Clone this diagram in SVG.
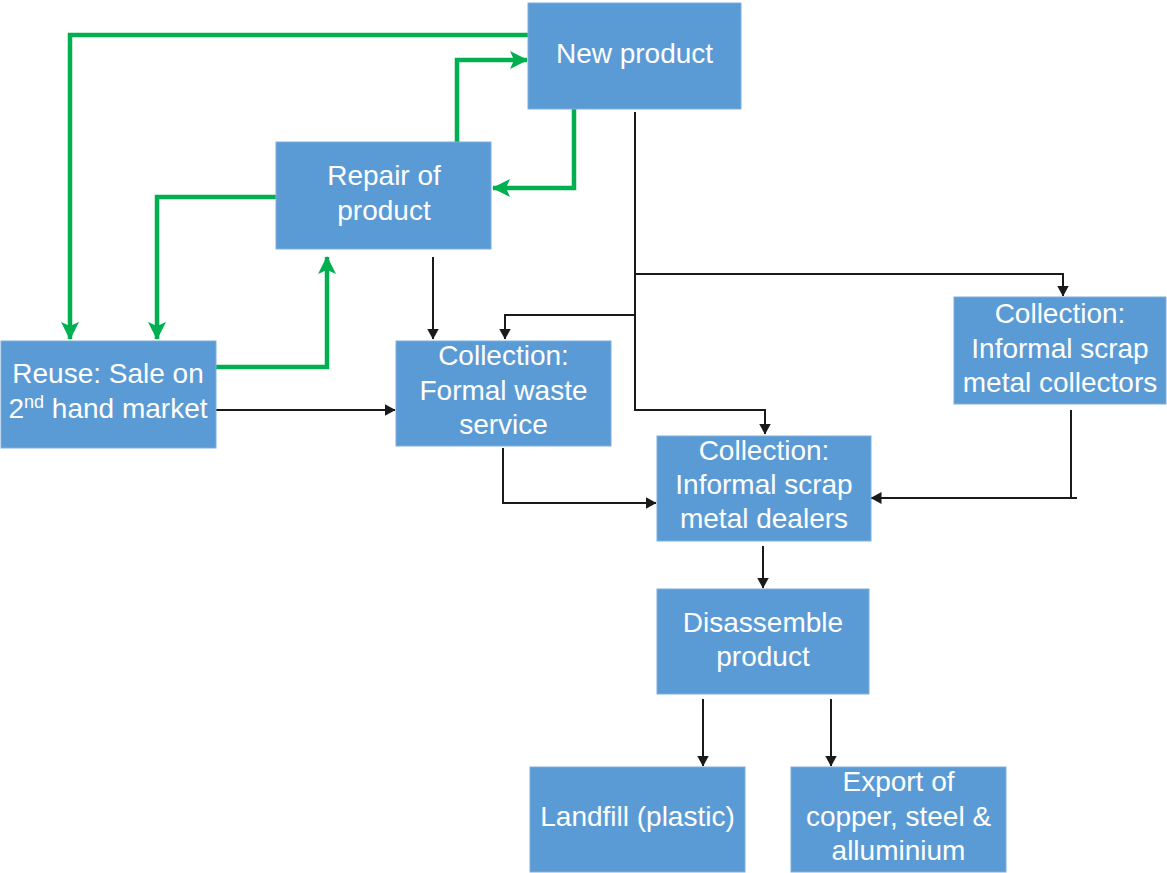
<svg xmlns="http://www.w3.org/2000/svg" width="1167" height="873" viewBox="0 0 1167 873">
<style>
.box{fill:#5B9BD5;stroke:#7EAEDD;stroke-width:1}
.t{font-family:"Liberation Sans",Arial,sans-serif;font-size:28px;fill:#FFFFFF;text-anchor:middle}
.g{fill:none;stroke:#00B050;stroke-width:4.5;stroke-linejoin:miter;marker-end:url(#ga)}
.k{fill:none;stroke:#1A1A1A;stroke-width:2;marker-end:url(#ka)}
.kn{fill:none;stroke:#1A1A1A;stroke-width:2}
</style>
<defs>
<marker id="ga" markerUnits="userSpaceOnUse" markerWidth="18" markerHeight="18" viewBox="0 0 18 18" refX="17" refY="9" orient="auto">
<path d="M0,0 L18,9 L0,18 L4,9 Z" fill="#00B050"/>
</marker>
<marker id="ka" markerUnits="userSpaceOnUse" markerWidth="11" markerHeight="12" viewBox="0 0 11 12" refX="10.5" refY="6" orient="auto">
<path d="M0,0 L11,6 L0,12 Z" fill="#1A1A1A"/>
</marker>
</defs>
<rect width="1167" height="873" fill="#FFFFFF"/>
<g id="connectors">
<path class="g" d="M528,35 H70 V339"/>
<path class="g" d="M276,197 H157 V339"/>
<path class="g" d="M457,142 V60 H527"/>
<path class="g" d="M574,109 V188 H493"/>
<path class="g" d="M216,367 H327 V257"/>
<path class="k" d="M433,257 V339"/>
<path class="k" d="M635,112 V410 H765 V434"/>
<path class="k" d="M635,274 H1063 V296"/>
<path class="k" d="M635,315 H505 V339"/>
<path class="k" d="M216,410 H395"/>
<path class="k" d="M503,448 V503 H656"/>
<path class="kn" d="M1071,410 V498"/>
<path class="k" d="M1077,498 H871"/>
<path class="k" d="M763,546 V588"/>
<path class="k" d="M703,699 V766"/>
<path class="k" d="M831,699 V766"/>
</g>
<g id="new-product">
<rect class="box" x="528" y="3" width="213" height="106"/>
<text class="t" x="634.5" y="63">New product</text>
</g>
<g id="repair">
<rect class="box" x="276" y="142" width="215" height="107"/>
<text class="t" x="384" y="185">Repair of</text>
<text class="t" x="384" y="220">product</text>
</g>
<g id="reuse">
<rect class="box" x="1" y="341" width="215" height="107"/>
<text class="t" x="108" y="383">Reuse: Sale on</text>
<text class="t" x="108" y="418">2<tspan font-size="18" baseline-shift="super">nd</tspan> hand market</text>
</g>
<g id="formal-waste">
<rect class="box" x="396" y="341" width="215" height="105"/>
<text class="t" x="503.5" y="365">Collection:</text>
<text class="t" x="503.5" y="399.5">Formal waste</text>
<text class="t" x="503.5" y="434">service</text>
</g>
<g id="scrap-collectors">
<rect class="box" x="954" y="297" width="212" height="107"/>
<text class="t" x="1060" y="323">Collection:</text>
<text class="t" x="1060" y="358">Informal scrap</text>
<text class="t" x="1060" y="392">metal collectors</text>
</g>
<g id="scrap-dealers">
<rect class="box" x="657" y="436" width="214" height="105"/>
<text class="t" x="764" y="460">Collection:</text>
<text class="t" x="764" y="494">Informal scrap</text>
<text class="t" x="764" y="528">metal dealers</text>
</g>
<g id="disassemble">
<rect class="box" x="657" y="589" width="212" height="105"/>
<text class="t" x="763" y="632">Disassemble</text>
<text class="t" x="763" y="666">product</text>
</g>
<g id="landfill">
<rect class="box" x="530" y="767" width="215" height="105"/>
<text class="t" x="637.5" y="826">Landfill (plastic)</text>
</g>
<g id="export">
<rect class="box" x="791" y="767" width="215" height="105"/>
<text class="t" x="898.5" y="791">Export of</text>
<text class="t" x="898.5" y="826">copper, steel &amp;</text>
<text class="t" x="898.5" y="860">alluminium</text>
</g>
</svg>
